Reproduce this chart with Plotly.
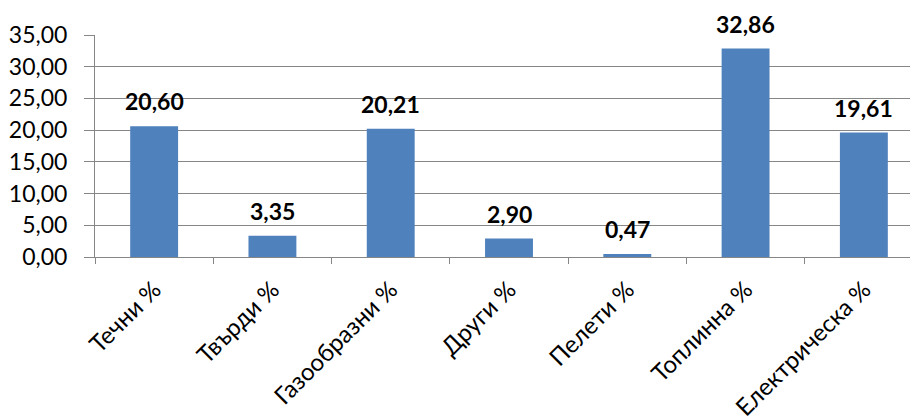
import plotly.graph_objects as go

categories = ["Течни %", "Твърди %", "Газообразни %", "Други %", "Пелети %", "Топлинна %", "Електрическа %"]
values = [20.60, 3.35, 20.21, 2.90, 0.47, 32.86, 19.61]
y_ticks = [0, 5, 10, 15, 20, 25, 30, 35]

FONT = "Lato, Open Sans, sans-serif"

fig = go.Figure(go.Bar(
    x=categories, y=values,
    marker=dict(color="#4F81BD", line=dict(width=0)),
    width=0.405,
))

for c, v in zip(categories, values):
    fig.add_annotation(
        x=c, y=v, text="<b>%s</b>" % f"{v:.2f}".replace(".", ","),
        showarrow=False, yanchor="middle", yshift=25,
        font=dict(family=FONT, size=23, color="#000000"),
    )

fig.update_layout(
    width=910, height=416,
    margin=dict(l=95, r=0, t=35, b=159, autoexpand=False),
    paper_bgcolor="white", plot_bgcolor="white",
    separators=",.",
    showlegend=False,
    font=dict(family=FONT, size=22, color="#000000"),
)
fig.update_xaxes(
    range=[-0.5, 6.39],
    tickangle=-45,
    ticks="outside", tickson="boundaries", ticklen=6, tickcolor="#868686",
    showline=True, linecolor="#868686", linewidth=1,
    showgrid=False, automargin=False,
    ticklabelstandoff=8,
    tickfont=dict(size=24),
)
fig.update_yaxes(
    range=[0, 35],
    tickvals=y_ticks, tickformat=".2f",
    ticks="outside", ticklen=10, tickcolor="#868686",
    showline=True, linecolor="#868686", linewidth=1,
    showgrid=True, gridcolor="#868686", gridwidth=1,
    zeroline=False, automargin=False,
    ticklabelstandoff=12,
    tickfont=dict(size=23),
)

fig.write_html("out.html")
